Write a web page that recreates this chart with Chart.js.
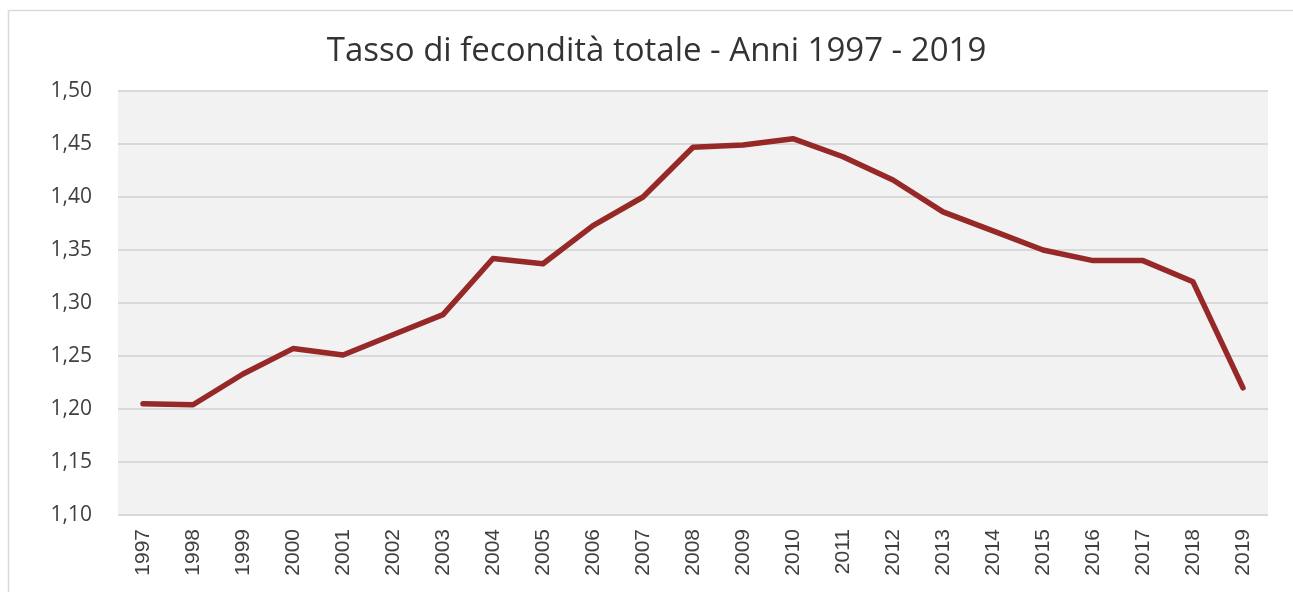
<!DOCTYPE html>
<html>
<head>
<meta charset="utf-8">
<script src="https://cdn.jsdelivr.net/npm/chart.js@4/dist/chart.umd.min.js"></script>
<style>
html,body{margin:0;padding:0;background:#fff;}
#wrap{width:1293px;height:592px;}
</style>
</head>
<body>
<div id="wrap"><canvas id="c" width="1293" height="592"></canvas></div>
<script>
const titleText = "Tasso di fecondità totale - Anni 1997 - 2019";
const years = ["1997","1998","1999","2000","2001","2002","2003","2004","2005","2006","2007","2008","2009","2010","2011","2012","2013","2014","2015","2016","2017","2018","2019"];
const fertility = [1.205,1.204,1.233,1.257,1.251,1.270,1.289,1.342,1.337,1.373,1.400,1.447,1.449,1.455,1.438,1.416,1.386,1.368,1.350,1.340,1.340,1.320,1.220];
const yMin = 1.10, yMax = 1.50, yStep = 0.05;

const bgPlugin = {
  id: 'bg',
  beforeDraw(chart) {
    const {ctx, chartArea: a} = chart;
    ctx.save();
    ctx.strokeStyle = '#d9d9d9';
    ctx.lineWidth = 1.5;
    ctx.strokeRect(8.5, 10.5, 1300, 620);
    ctx.fillStyle = '#f2f2f2';
    ctx.fillRect(a.left, a.top, a.right - a.left, a.bottom - a.top);
    ctx.restore();
  }
};

new Chart(document.getElementById('c'), {
  type: 'line',
  data: {
    labels: years,
    datasets: [{
      data: fertility,
      borderColor: '#962828',
      borderWidth: 5.5,
      pointRadius: 0,
      tension: 0,
      borderJoinStyle: 'round',
      borderCapStyle: 'round',
      fill: false
    }]
  },
  options: {
    responsive: false,
    animation: false,
    devicePixelRatio: 1,
    layout: {padding: {left: 45, right: 25, top: 0, bottom: 0}},
    plugins: {
      legend: {display: false},
      tooltip: {enabled: false},
      title: {
        display: true,
        text: titleText,
        color: '#333333',
        font: {family: 'Open Sans', size: 33, weight: 'normal'},
        padding: {top: 32, bottom: 19.4}
      }
    },
    scales: {
      x: {
        offset: true,
        grid: {display: false, drawTicks: false},
        border: {display: false},
        ticks: {
          minRotation: 90, maxRotation: 90, autoSkip: false, padding: 14,
          color: '#404040',
          font: {family: 'Liberation Sans', size: 21}
        },
        afterFit(s) { s.height = 77; }
      },
      y: {
        min: yMin, max: yMax,
        grid: {color: '#d9d9d9', lineWidth: 2, drawTicks: false},
        border: {display: false},
        ticks: {
          stepSize: yStep, padding: 26, color: '#404040',
          font: {family: 'Open Sans', size: 21},
          callback: v => v.toFixed(2).replace('.', ',')
        },
        afterFit(s) { s.width = 73; }
      }
    }
  },
  plugins: [bgPlugin]
});
</script>
</body>
</html>
